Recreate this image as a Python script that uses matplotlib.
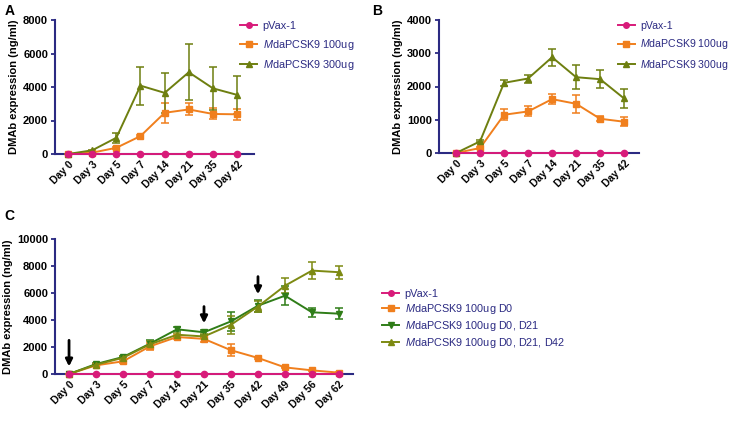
import matplotlib.pyplot as plt
from matplotlib.lines import Line2D
import numpy as np

plt.rcParams['font.family'] = ['Liberation Sans', 'DejaVu Sans']
plt.rcParams['mathtext.fontset'] = 'custom'
plt.rcParams['mathtext.it'] = 'Liberation Sans:italic'
plt.rcParams['mathtext.rm'] = 'Liberation Sans'

# Panel A / B categories
days_ab = ['Day 0', 'Day 3', 'Day 5', 'Day 7', 'Day 14', 'Day 21', 'Day 35', 'Day 42']

# Panel A values
a_pvax = [0, 0, 0, 0, 0, 0, 0, 0]
a_100 = [0, 80, 370, 1070, 2460, 2660, 2390, 2370]
a_100_err = [0, 30, 60, 60, 600, 360, 330, 320]
a_300 = [0, 220, 970, 4080, 3650, 4880, 3920, 3530]
a_300_err = [0, 40, 300, 1140, 1190, 1660, 1290, 1150]

# Panel B values
b_pvax = [0, 0, 0, 0, 0, 0, 0, 0]
b_100 = [0, 150, 1150, 1250, 1620, 1480, 1030, 940]
b_100_err = [0, 30, 170, 150, 160, 270, 70, 130]
b_300 = [0, 350, 2110, 2240, 2880, 2280, 2220, 1640]
b_300_err = [0, 30, 80, 120, 260, 370, 270, 290]

# Panel C values
days_c = ['Day 0', 'Day 3', 'Day 5', 'Day 7', 'Day 14', 'Day 21', 'Day 35',
          'Day 42', 'Day 49', 'Day 56', 'Day 62']
c_pvax = [0] * 11
c_d0 = [0, 640, 940, 2050, 2740, 2600, 1760, 1190, 490, 270, 100]
c_d0_err = [0, 80, 100, 250, 150, 250, 440, 80, 60, 40, 30]
c_d21 = [0, 740, 1260, 2250, 3310, 3090, 3900, 5060, 5800, 4570, 4470]
c_d21_err = [0, 80, 100, 300, 150, 200, 700, 450, 700, 340, 400]
c_d42 = [0, 690, 1200, 2200, 2910, 2780, 3650, 5000, 6540, 7660, 7540]
c_d42_err = [0, 80, 100, 250, 150, 150, 650, 400, 560, 600, 470]
c_arrow_idx = [0, 5, 7]
c_arrow_top = [2700, 5200, 7420]
c_arrow_tip = [350, 3550, 5700]

pink = '#d81b7a'
orange = '#f07f1d'
olive = '#6e7f10'
green = '#2f7d18'
olive2 = '#7d8a12'
navy = '#2b2a82'


def style_axes(ax, labels, ymax, ystep, xlim):
    ax.set_xlim(*xlim)
    ax.set_ylim(0, ymax)
    ax.set_yticks(np.arange(0, ymax + 1, ystep))
    ax.set_xticks(range(len(labels)))
    ax.set_xticklabels(labels, rotation=45, ha='right', rotation_mode='anchor',
                       fontsize=7.5, fontweight='bold')
    for t in ax.get_yticklabels():
        t.set_fontsize(8)
        t.set_fontweight('bold')
    ax.tick_params(axis='x', length=0, pad=4)
    ax.tick_params(axis='y', length=3, width=1.3, color=navy, pad=2)
    for s in ['top', 'right']:
        ax.spines[s].set_visible(False)
    for s in ['left', 'bottom']:
        ax.spines[s].set_color(navy)
        ax.spines[s].set_linewidth(1.5)
    ax.set_ylabel('DMAb expression (ng/ml)', fontsize=8, fontweight='bold', labelpad=3)


def series(ax, y, err, color, marker, ms=4.5):
    x = np.arange(len(y))
    if err is None:
        ax.plot(x, y, color=color, marker=marker, ms=ms, lw=1.4,
                clip_on=False, zorder=5)
    else:
        ax.errorbar(x, y, yerr=err, color=color, marker=marker, ms=ms, lw=1.4,
                    elinewidth=1.1, capsize=3, capthick=1.1,
                    clip_on=False, zorder=4)


def legend(ax, x, y, colors, markers, labels, spacing, fs):
    handles = [Line2D([], [], color=c, marker=m, ms=4, lw=1.4)
               for c, m in zip(colors, markers)]
    leg = ax.legend(handles, labels, loc='upper left', bbox_to_anchor=(x, y),
                    bbox_transform=fig.transFigure, frameon=False, fontsize=fs,
                    handlelength=1.6, handletextpad=0.5, labelspacing=spacing,
                    borderpad=0, borderaxespad=0)
    for t in leg.get_texts():
        t.set_color(navy)
    return leg


lab_ab = ['pVax-1', r'$\it{M}$daPCSK9 100ug', r'$\it{M}$daPCSK9 300ug']
lab_c = ['pVax-1', r'$\it{M}$daPCSK9 100ug D0', r'$\it{M}$daPCSK9 100ug D0, D21',
         r'$\it{M}$daPCSK9 100ug D0, D21, D42']

fig = plt.figure(figsize=(7.34, 4.21), dpi=100)

# Panel A
axA = fig.add_axes([55 / 734, 1 - 154 / 421, 199 / 734, 134 / 421])
series(axA, a_pvax, None, pink, 'o')
series(axA, a_100, a_100_err, orange, 's')
series(axA, a_300, a_300_err, olive, '^')
style_axes(axA, days_ab, 8000, 2000, (-0.54, 7.7))
legend(axA, 240 / 734, 1 - 21 / 421, [pink, orange, olive], ['o', 's', '^'],
       lab_ab, 0.6, 7.8)

# Panel B
axB = fig.add_axes([439 / 734, 1 - 153 / 421, 200 / 734, 133 / 421])
series(axB, b_pvax, None, pink, 'o')
series(axB, b_100, b_100_err, orange, 's')
series(axB, b_300, b_300_err, olive, '^')
style_axes(axB, days_ab, 4000, 1000, (-0.71, 7.62))
legend(axB, 618 / 734, 1 - 21 / 421, [pink, orange, olive], ['o', 's', '^'],
       lab_ab, 0.6, 7.6)

# Panel C
axC = fig.add_axes([55 / 734, 1 - 374 / 421, 298 / 734, 135 / 421])
series(axC, c_pvax, None, pink, 'o')
series(axC, c_d0, c_d0_err, orange, 's')
series(axC, c_d21, c_d21_err, green, 'v')
series(axC, c_d42, c_d42_err, olive2, '^')
style_axes(axC, days_c, 10000, 2000, (-0.52, 10.52))
for i, top, tip in zip(c_arrow_idx, c_arrow_top, c_arrow_tip):
    axC.annotate('', xy=(i, tip), xytext=(i, top),
                 arrowprops=dict(arrowstyle='-|>', color='black', lw=2,
                                 mutation_scale=10), zorder=6)
legend(axC, 382 / 734, 1 - 289 / 421, [pink, orange, green, olive2],
       ['o', 's', 'v', '^'], lab_c, 0.28, 7.8)

fig.text(5 / 734, 1 - 4 / 421, 'A', fontsize=10, fontweight='bold', va='top')
fig.text(372 / 734, 1 - 4 / 421, 'B', fontsize=10, fontweight='bold', va='top')
fig.text(4 / 734, 1 - 209 / 421, 'C', fontsize=10, fontweight='bold', va='top')

fig.savefig('out.png', dpi=100)
